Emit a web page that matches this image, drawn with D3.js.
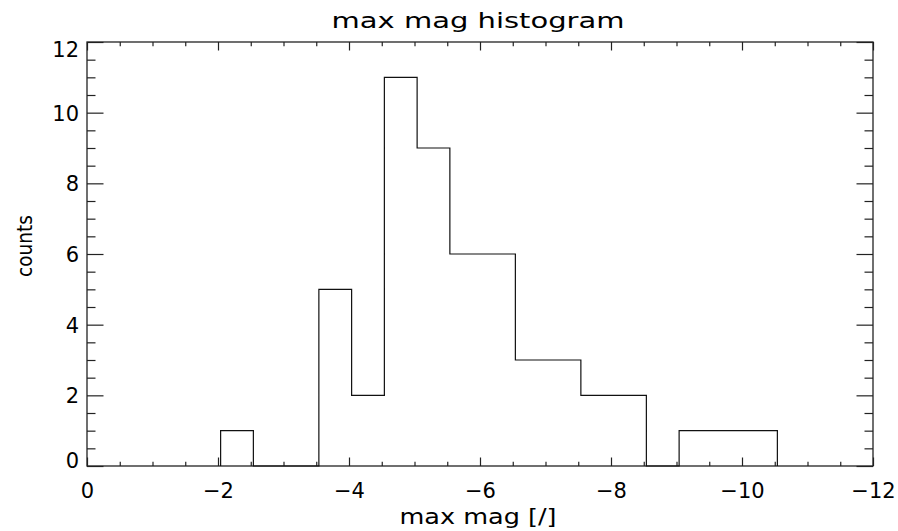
<!DOCTYPE html>
<html>
<head>
<meta charset="utf-8">
<script src="https://cdn.jsdelivr.net/npm/d3@7"></script>
<style>
  body { margin: 0; background: #fff; }
  svg { display: block; }
  text { font-family: "DejaVu Sans", sans-serif; fill: #000; }
</style>
</head>
<body>
<svg id="chart" width="898" height="531"></svg>
<script>
// ---- data ----
const binEdges = [-2.04, -2.54, -3.04, -3.54, -4.04, -4.54, -5.04, -5.54, -6.04,
                  -6.54, -7.04, -7.54, -8.04, -8.54, -9.04, -9.54, -10.04, -10.54];
const counts   = [1, 0, 0, 5, 2, 11, 9, 6, 6, 3, 3, 2, 2, 0, 1, 1, 1];
const xMajorTicks = [0, -2, -4, -6, -8, -10, -12];
const xMinorTicks = [-0.5, -1, -1.5, -2.5, -3, -3.5, -4.5, -5, -5.5, -6.5, -7, -7.5,
                     -8.5, -9, -9.5, -10.5, -11, -11.5];
const yMajorTicks = [0, 2, 4, 6, 8, 10, 12];
const yMinorTicks = [0.5, 1, 1.5, 2.5, 3, 3.5, 4.5, 5, 5.5, 6.5, 7, 7.5, 8.5, 9, 9.5, 10.5, 11, 11.5];
const titleText = "max mag histogram";
const xTitle = "max mag [/]";
const yTitle = "counts";

// ---- layout ----
const L = 87, R = 873, T = 42, B = 466;
const svg = d3.select("#chart");
const x = d3.scaleLinear().domain([0, -12]).range([L, R]);
const y = d3.scaleLinear().domain([0, 12]).range([B, T]);

const axisColor = "#222";
const fmt = d => (d < 0 ? "\u2212" + Math.abs(d) : String(d));

function styleAxis(g) {
  g.select(".domain").remove();
  g.selectAll(".tick line").attr("stroke", axisColor).attr("stroke-width", 1.2);
  g.selectAll("text").style("font-size", "21px").attr("fill", "#000");
}

// x bottom
svg.append("g").attr("transform", `translate(0,${B})`)
  .call(d3.axisBottom(x).tickValues(xMajorTicks).tickSizeInner(-8.5).tickSizeOuter(0)
        .tickPadding(17).tickFormat(fmt))
  .call(styleAxis);
svg.append("g").attr("transform", `translate(0,${B})`)
  .call(d3.axisBottom(x).tickValues(xMinorTicks).tickSizeInner(-4.3).tickSizeOuter(0).tickFormat(""))
  .call(styleAxis);
// x top
svg.append("g").attr("transform", `translate(0,${T})`)
  .call(d3.axisTop(x).tickValues(xMajorTicks).tickSizeInner(-8.5).tickSizeOuter(0).tickFormat(""))
  .call(styleAxis);
svg.append("g").attr("transform", `translate(0,${T})`)
  .call(d3.axisTop(x).tickValues(xMinorTicks).tickSizeInner(-4.3).tickSizeOuter(0).tickFormat(""))
  .call(styleAxis);
// y left
const yl = svg.append("g").attr("transform", `translate(${L},0)`)
  .call(d3.axisLeft(y).tickValues(yMajorTicks).tickSizeInner(-16.5).tickSizeOuter(0)
        .tickPadding(8).tickFormat(fmt))
  .call(styleAxis);
// keep end labels inside the axis range
yl.selectAll(".tick text").attr("y", function(d) {
  const py = y(d);
  const c = Math.max(T + 6.5, Math.min(B - 6.5, py));
  return c - py;
}).attr("dy", "0.36em");
svg.append("g").attr("transform", `translate(${L},0)`)
  .call(d3.axisLeft(y).tickValues(yMinorTicks).tickSizeInner(-8.5).tickSizeOuter(0).tickFormat(""))
  .call(styleAxis);
// y right
svg.append("g").attr("transform", `translate(${R},0)`)
  .call(d3.axisRight(y).tickValues(yMajorTicks).tickSizeInner(-16.5).tickSizeOuter(0).tickFormat(""))
  .call(styleAxis);
svg.append("g").attr("transform", `translate(${R},0)`)
  .call(d3.axisRight(y).tickValues(yMinorTicks).tickSizeInner(-8.5).tickSizeOuter(0).tickFormat(""))
  .call(styleAxis);

// frame
svg.append("rect").attr("x", L).attr("y", T).attr("width", R - L).attr("height", B - T)
  .attr("fill", "none").attr("stroke", axisColor).attr("stroke-width", 1.3);

// histogram step line
const pts = [[binEdges[0], 0]];
counts.forEach((c, i) => { pts.push([binEdges[i], c]); pts.push([binEdges[i + 1], c]); });
pts.push([binEdges[binEdges.length - 1], 0]);
svg.append("path")
  .attr("d", d3.line().x(d => x(d[0])).y(d => y(d[1]))(pts))
  .attr("fill", "none").attr("stroke", "#111").attr("stroke-width", 1.2);

// titles
svg.append("text").attr("x", 478).attr("y", 27.5).attr("text-anchor", "middle")
  .style("font-size", "22px").attr("textLength", 293).attr("lengthAdjust", "spacingAndGlyphs")
  .text(titleText);
svg.append("text").attr("x", 478).attr("y", 524).attr("text-anchor", "middle")
  .style("font-size", "21px").attr("textLength", 157).attr("lengthAdjust", "spacingAndGlyphs")
  .text(xTitle);
svg.append("text").attr("transform", "translate(31.5,246) rotate(-90)").attr("text-anchor", "middle")
  .style("font-size", "21px").attr("textLength", 62).attr("lengthAdjust", "spacingAndGlyphs")
  .text(yTitle);
</script>
</body>
</html>
